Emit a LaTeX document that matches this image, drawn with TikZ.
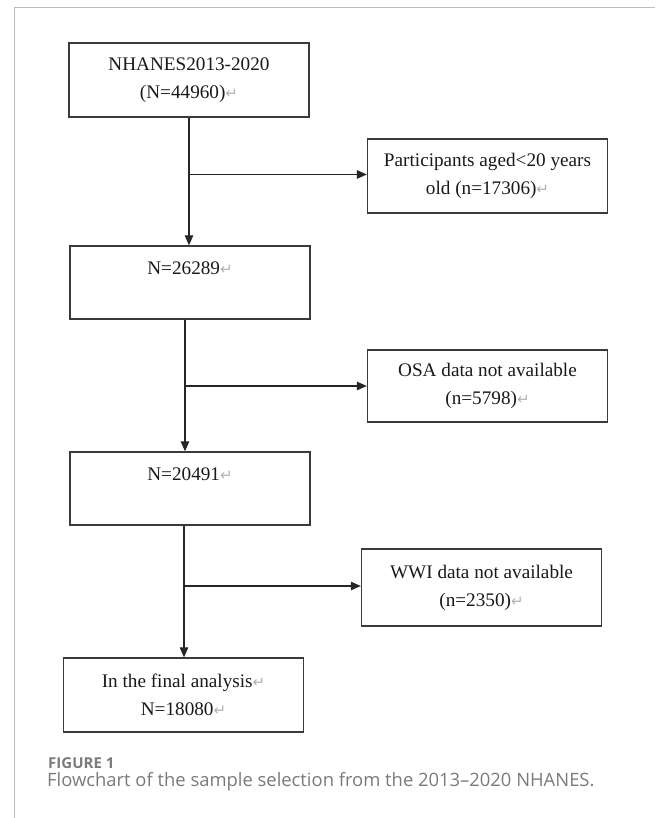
\documentclass[tikz,border=0pt]{standalone}
\usepackage{fontspec}
\setmainfont{Liberation Serif}
\newfontfamily\retfont{DejaVu Sans}
\newfontfamily\capfont{Open Sans}
\usetikzlibrary{arrows.meta}
\definecolor{boxline}{HTML}{3A3A3A}
\definecolor{capgray}{HTML}{7A7A7A}
\definecolor{framegray}{HTML}{BDBDBD}
\newcommand\myret{{\retfont\fontsize{15}{15}\selectfont\textcolor{gray!60}{\char"21B5}}}
\tikzset{
  fbox/.style={draw=boxline, line width=1.3pt, minimum width=240pt, minimum height=74pt,
    align=center, inner sep=0pt, font=\fontsize{19.2}{28}\selectfont, text=black!90},
  arr/.style={draw=black!85, line width=1.1pt, -{Triangle[length=10pt,width=8.5pt]}},
}
\begin{document}
\begin{tikzpicture}[x=1pt,y=-1pt]
\useasboundingbox (0,0) rectangle (655,818);
\draw[framegray, line width=1.2pt] (14.5,818) -- (14.5,7.7) -- (655,7.7);

\node[fbox] (b1) at (189,80) {NHANES2013-2020\\(N=44960)\myret};
\node[fbox] (s1) at (487.5,176) {Participants aged<20 years\\old (n=17306)\myret};
\node[fbox, minimum height=73pt] (b2) at (190,282.5) {N=26289\myret\\\mbox{}};
\node[fbox, minimum height=72pt] (s2) at (487.5,386) {OSA data not available\\(n=5798)\myret};
\node[fbox, minimum height=73pt] (b3) at (190,488.5) {N=20491\myret\\\mbox{}};
\node[fbox, minimum height=77pt] (s3) at (481.5,587.5) {WWI data not available\\(n=2350)\myret};
\node[fbox] (b4) at (183.5,695) {In the final analysis\myret\\N=18080\myret};

\draw[arr] (b1.south) -- (b1.south |- b2.north);
\draw[arr] ([yshift=1.5pt]b1.south |- s1.west) -- ([yshift=1.5pt]s1.west);
\draw[arr] ([xshift=-5pt]b2.south) -- ([xshift=-5pt]b2.south |- b3.north);
\draw[arr] ([xshift=-5pt]b2.south |- s2.west) -- (s2.west);
\draw[arr] ([xshift=-6pt]b3.south) -- ([xshift=-6pt]b3.south |- b4.north);
\draw[arr] ([xshift=-6pt,yshift=1.5pt]b3.south |- s3.west) -- ([yshift=1.5pt]s3.west);

\node[anchor=base west, inner sep=0pt, text=capgray, font=\capfont\bfseries\fontsize{15}{15}\selectfont] (fig) at (48,768) {FIGURE 1};
\node[anchor=base west, inner sep=0pt, text=capgray, font=\capfont\fontsize{18.4}{18.4}\selectfont] (cap) at (47,786) {Flowchart of the sample selection from the 2013–2020 NHANES.};
\end{tikzpicture}
\end{document}
